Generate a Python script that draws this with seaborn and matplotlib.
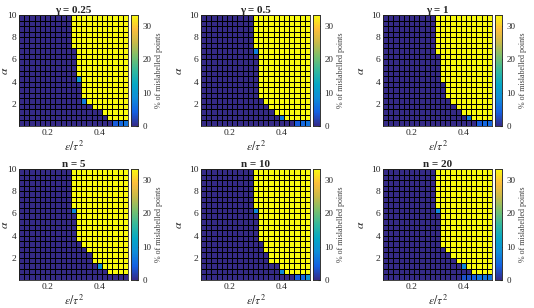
import numpy as np
import matplotlib
matplotlib.use("Agg")
import matplotlib.pyplot as plt
import seaborn as sns
from matplotlib.colors import LinearSegmentedColormap

sns.set_style("white")
plt.rcParams['font.family'] = ['Liberation Serif', 'DejaVu Serif']
plt.rcParams['mathtext.fontset'] = 'stix'

# grid: 21 columns (eps/tau^2 = 0.1 .. 0.5), 20 rows (alpha 0 .. 10)
eps_vals = [0.1 + 0.02 * i for i in range(21)]
n_rows = 20
top_value = 33.3  # yellow cells

titles = ['γ = 0.25', 'γ = 0.5', 'γ = 1', 'n = 5', 'n = 10', 'n = 20']

# first yellow column for each row, bottom row first (21 = no yellow)
edge_g025 = [21, 17, 16, 14, 13, 12, 12, 12, 12, 11, 11, 11, 11, 11, 10, 10, 10, 10, 10, 10]
edge_g05 = [21, 16, 14, 13, 12, 11, 11, 11, 11, 11, 11, 11, 11, 11, 10, 10, 10, 10, 10, 10]
edge_g1 = [21, 17, 15, 14, 13, 12, 12, 12, 11, 11, 11, 11, 11, 10, 10, 10, 10, 10, 10, 10]
edge_n5 = [21, 17, 16, 14, 14, 13, 12, 11, 11, 11, 11, 11, 11, 10, 10, 10, 10, 10, 10, 10]
edge_n10 = [21, 16, 15, 13, 13, 12, 12, 11, 11, 11, 11, 11, 11, 10, 10, 10, 10, 10, 10, 10]
edge_n20 = [21, 17, 16, 14, 13, 12, 11, 11, 11, 11, 11, 11, 11, 10, 10, 10, 10, 10, 10, 10]

# intermediate cells (row from bottom, column, % mislabelled)
mid_g025 = [(8, 11, 10), (4, 12, 7), (0, 18, 4), (0, 19, 5), (0, 20, 6)]
mid_g05 = [(13, 10, 7), (1, 15, 7), (0, 18, 4), (0, 19, 5), (0, 20, 6)]
mid_g1 = [(1, 16, 7), (0, 18, 4), (0, 19, 5), (0, 20, 5)]
mid_n5 = [(12, 10, 8), (2, 15, 9)]
mid_n10 = [(12, 10, 8), (1, 15, 8), (0, 18, 4), (0, 19, 5), (0, 20, 9)]
mid_n20 = [(12, 10, 8), (2, 15, 8), (0, 15, 3), (0, 16, 3), (0, 17, 4),
           (0, 18, 6), (0, 19, 6), (0, 20, 6)]

edges = [edge_g025, edge_g05, edge_g1, edge_n5, edge_n10, edge_n20]
mids = [mid_g025, mid_g05, mid_g1, mid_n5, mid_n10, mid_n20]

parula = LinearSegmentedColormap.from_list('parula', [
    (0.208, 0.166, 0.529), (0.077, 0.374, 0.883), (0.060, 0.550, 0.850),
    (0.024, 0.656, 0.773), (0.200, 0.722, 0.615), (0.470, 0.750, 0.430),
    (0.780, 0.730, 0.290), (0.993, 0.746, 0.233), (0.976, 0.983, 0.054)])


def build(edge, mid):
    z = np.zeros((n_rows, len(eps_vals)))
    for r, c0 in enumerate(edge):
        z[r, c0:] = top_value
    for r, c, v in mid:
        z[r, c] = v
    return np.flipud(z)  # heatmap draws first row on top


W, H = 534, 308
fig = plt.figure(figsize=(W / 100, H / 100), dpi=100)

col_left = [19, 201, 383]
cb_left = [131, 313, 495]
row_top = [15, 169]
ax_w, ax_h = 109, 111

for k in range(6):
    i, j = divmod(k, 3)
    ax = fig.add_axes([col_left[j] / W, 1 - (row_top[i] + ax_h) / H, ax_w / W, ax_h / H])
    cax = fig.add_axes([cb_left[j] / W, 1 - (row_top[i] + ax_h) / H, 7 / W, ax_h / H])
    sns.heatmap(build(edges[k], mids[k]), ax=ax, cbar_ax=cax, cmap=parula,
                vmin=0, vmax=top_value, linewidths=0.6, linecolor='black',
                xticklabels=False, yticklabels=False)
    for s in ax.spines.values():
        s.set_visible(True)
        s.set_linewidth(0.6)
    ax.set_xticks([5.5, 15.5])
    ax.set_xticklabels(['0.2', '0.4'])
    ax.set_yticks([0, 4, 8, 12, 16])
    ax.set_yticklabels(['10', '8', '6', '4', '2'], rotation=0)
    ax.tick_params(labelsize=6.8, length=0, pad=2, colors='#262626')
    ax.set_title(titles[k], fontsize=8, fontweight='bold', pad=1.5)
    ax.set_xlabel(r'$\epsilon/\tau^2$', fontsize=8.5, labelpad=2)
    ax.set_ylabel(r'$\alpha$', fontsize=8.5)
    # first column has no room on the left, keep alpha inside the figure
    ax.yaxis.set_label_coords(-0.075 if j == 0 else -0.145, 0.5)

    cax.set_yticks([0, 10, 20, 30])
    cax.tick_params(labelsize=6.5, length=1.5, direction='in', pad=3, colors='#262626')
    for s in cax.spines.values():
        s.set_visible(True)
        s.set_linewidth(0.5)
    cax.set_ylabel('% of mislabelled points', fontsize=5.8, labelpad=3, color='#404040')

fig.savefig('out.png', dpi=100)
plt.close()
